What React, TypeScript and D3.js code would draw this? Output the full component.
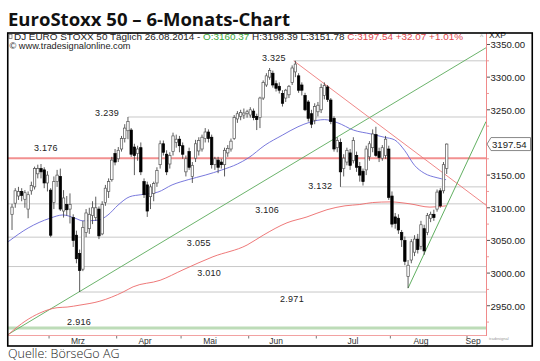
import React from 'react';
import * as d3 from 'd3';

// ---------- data ----------
const dates = [
  "2014-02-13","2014-02-14","2014-02-17","2014-02-18","2014-02-19","2014-02-20","2014-02-21","2014-02-24","2014-02-25","2014-02-26","2014-02-27","2014-02-28",
  "2014-03-03","2014-03-04","2014-03-05","2014-03-06","2014-03-07","2014-03-10","2014-03-11","2014-03-12","2014-03-13","2014-03-14","2014-03-17","2014-03-18","2014-03-19","2014-03-20","2014-03-21","2014-03-24","2014-03-25","2014-03-26","2014-03-27","2014-03-28","2014-03-31",
  "2014-04-01","2014-04-02","2014-04-03","2014-04-04","2014-04-07","2014-04-08","2014-04-09","2014-04-10","2014-04-11","2014-04-14","2014-04-15","2014-04-16","2014-04-17","2014-04-22","2014-04-23","2014-04-24","2014-04-25","2014-04-28","2014-04-29","2014-04-30",
  "2014-05-02","2014-05-05","2014-05-06","2014-05-07","2014-05-08","2014-05-09","2014-05-12","2014-05-13","2014-05-14","2014-05-15","2014-05-16","2014-05-19","2014-05-20","2014-05-21","2014-05-22","2014-05-23","2014-05-26","2014-05-27","2014-05-28","2014-05-29","2014-05-30",
  "2014-06-02","2014-06-03","2014-06-04","2014-06-05","2014-06-06","2014-06-09","2014-06-10","2014-06-11","2014-06-12","2014-06-13","2014-06-16","2014-06-17","2014-06-18","2014-06-19","2014-06-20","2014-06-23","2014-06-24","2014-06-25","2014-06-26","2014-06-27","2014-06-30",
  "2014-07-01","2014-07-02","2014-07-03","2014-07-04","2014-07-07","2014-07-08","2014-07-09","2014-07-10","2014-07-11","2014-07-14","2014-07-15","2014-07-16","2014-07-17","2014-07-18","2014-07-21","2014-07-22","2014-07-23","2014-07-24","2014-07-25","2014-07-28","2014-07-29","2014-07-30","2014-07-31",
  "2014-08-01","2014-08-04","2014-08-05","2014-08-06","2014-08-07","2014-08-08","2014-08-11","2014-08-12","2014-08-13","2014-08-14","2014-08-15","2014-08-18","2014-08-19","2014-08-20","2014-08-21","2014-08-22","2014-08-25","2014-08-26"
];

const opens = [
  3090,3107,3118,3125,3113,3098,3126,3132,3152,3160,3158,3138,
  3127,3108,3140,3148,3095,3105,3098,3085,3058,3030,3006,3062,3068,3088,3085,3098,3060,3108,3125,3143,3183,
  3175,3190,3206,3218,3219,3193,3183,3192,3140,3135,3117,3122,3138,3166,3198,3182,3167,3186,3200,3205,
  3195,3155,3186,3148,3176,3187,3190,3206,3216,3208,3166,3173,3170,3166,3184,3190,3206,3236,3240,3242,3244,
  3242,3248,3240,3238,3268,3288,3300,3306,3290,3286,3275,3268,3273,3292,3308,3302,3288,3272,3262,3244,3234,
  3247,3250,3272,3285,3265,3237,3192,3200,3160,3170,3184,3172,3180,3163,3156,3158,3178,3192,3212,3186,3176,3180,3190,
  3118,3086,3084,3062,3050,2995,3020,3032,3052,3041,3068,3062,3084,3090,3098,3126,3126,3160.37
];
const highs = [
  3106,3130,3132,3130,3127,3125,3140,3163,3166,3167,3162,3156,
  3130,3148,3158,3160,3127,3118,3122,3090,3065,3036,3080,3098,3100,3110,3117,3102,3110,3135,3145,3178,3190,
  3193,3210,3228,3239,3222,3198,3195,3200,3145,3140,3136,3140,3162,3203,3203,3188,3185,3215,3212,3210,
  3200,3180,3192,3170,3204,3208,3212,3222,3220,3212,3178,3178,3175,3192,3196,3206,3242,3248,3250,3252,3250,
  3254,3252,3244,3270,3295,3306,3314,3310,3295,3292,3280,3282,3288,3318,3325,3306,3292,3276,3265,3250,3260,
  3262,3290,3292,3288,3268,3240,3208,3206,3182,3192,3190,3208,3186,3170,3160,3195,3202,3220,3224,3192,3196,3210,3195,
  3125,3092,3090,3066,3056,3020,3052,3058,3060,3080,3074,3092,3094,3097,3128,3130,3170,3198.39
];
const lows = [
  3066,3100,3112,3110,3100,3084,3120,3128,3145,3145,3130,3125,
  3055,3098,3132,3095,3085,3088,3076,3040,3015,2971,3003,3055,3060,3075,3080,3052,3058,3103,3115,3140,3165,
  3170,3186,3200,3205,3178,3150,3172,3150,3115,3086,3098,3110,3132,3160,3180,3150,3160,3180,3192,3185,
  3175,3148,3158,3138,3170,3180,3186,3200,3200,3160,3158,3153,3160,3148,3178,3186,3204,3230,3234,3236,3238,
  3238,3234,3219,3222,3265,3285,3296,3284,3278,3275,3255,3262,3268,3288,3300,3276,3272,3248,3232,3222,3228,
  3240,3245,3266,3262,3228,3186,3185,3132,3148,3165,3158,3168,3155,3140,3134,3150,3172,3185,3178,3170,3172,3175,3112,
  3070,3068,3060,3040,3012,2977,3015,3026,3030,3036,3028,3058,3078,3080,3094,3100,3122,3151.78
];
const closes = [
  3101,3126,3125,3119,3123,3120,3134,3160,3160,3155,3138,3150,
  3058,3140,3150,3098,3115,3097,3105,3050,3022,3004,3070,3092,3090,3100,3100,3057,3105,3130,3140,3173,3170,
  3188,3206,3222,3232,3182,3180,3190,3155,3120,3095,3132,3137,3157,3198,3185,3155,3180,3210,3205,3195,
  3182,3175,3162,3165,3198,3203,3208,3216,3206,3166,3175,3162,3166,3188,3191,3202,3238,3244,3246,3245,3247,
  3250,3238,3235,3268,3292,3302,3310,3288,3283,3280,3260,3280,3286,3314,3320,3280,3280,3250,3237,3228,3255,
  3257,3284,3287,3266,3232,3190,3203,3155,3176,3188,3165,3203,3162,3150,3140,3190,3198,3213,3180,3177,3192,3205,3116,
  3075,3076,3066,3051,3018,3012,3048,3052,3036,3074,3034,3088,3090,3085,3124,3103,3166,3197.54
];

// moving averages: [trading-day index, value]
const blueMA: [number, number][] = [
  [-1.2,3048],[5,3069],[11.8,3084],[15.8,3089],[19.6,3084],[22,3080],[26.7,3081],[29.8,3089],[32.9,3104],
  [36.6,3117],[40,3120],[45.3,3124],[49.7,3135],[54.7,3143],[60,3150],[65.2,3158],[70,3167],[73.3,3176],
  [78.6,3196],[83.9,3211],[88.8,3224],[92.5,3231],[97,3235],[101.2,3230],[106,3219],[111.5,3213],
  [115.6,3208],[118.8,3204],[121.9,3188],[125,3165],[128,3153],[132,3146],[134.8,3143]
];
const redMA: [number, number][] = [
  [-1.25,2905],[-0.6,2908],[8.7,2939],[14,2947],[17.1,2948],[21.1,2951],[27.3,2957],[34.5,2971],[37.6,2979],
  [46,2989],[53.1,3005],[62.4,3025],[73,3043],[78,3058],[85.4,3077],[91.6,3086],[97.8,3097],[103.4,3103],
  [108,3105],[112,3108],[117.4,3109],[123.6,3106],[129.8,3101],[134.8,3103]
];

// trend lines: [index, value] end points
const greenTrendLong: [number, number][] = [[-1.25, 2906], [147.2, 3345]];
const redTrendDown: [number, number][] = [[87.5, 3325], [147.2, 3104]];
const greenTrendUp: [number, number][] = [[123, 2977], [147.2, 3232]];

// horizontal levels
const levels = [3325, 3239, 3176, 3132, 3106, 3055, 3010, 2971, 2916];
const levelKinds = ["grey", "grey", "red", "grey", "grey", "grey", "grey", "grey", "green"];
const levelStart = [87.5, 36, -1.25, 102, -1.25, -1.25, -1.25, 21, -1.25];
const levelLabelPos = [77.6, 25.8, 6.8, 92, 75.5, 54.3, 57.5, 83.2, 17.1];
const levelLabelDy = [0, -0.5, -7, 2.5, 9, 9, 9, 10, -3];

const monthLabels = ["Mrz", "Apr", "Mai", "Jun", "Jul", "Aug", "Sep"];
const monthTickPos = [11.5, 32.5, 52.5, 73.5, 94.5, 117.5, 141.3];
const monthLabelPos = [20.5, 41.3, 61.5, 82, 105.9, 127, 143.2];

const lastPrice = 3197.54;
const titleText = "EuroStoxx 50 – 6-Monats-Chart";
const sourceText = "Quelle: BörseGo AG";
const headerParts = [
  { t: "DJ EURO STOXX 50 Täglich  26.08.2014 - ", c: "#222" },
  { t: "O:3160.37", c: "#3aa83a" },
  { t: " H:3198.39 L:3151.78 ", c: "#222" },
  { t: "C:3197.54 +32.07 +1.01%", c: "#e0474c" },
];
const subHeader = "© www.tradesignalonline.com";
const symbolText = "XXP";

// ---------- layout ----------
const W = 540, H = 361;
const PL = 8, PR = 486, PT = 33, PB = 335;
const FONT = "'Liberation Sans', Arial, sans-serif";

export default function App() {
  const x = d3.scaleLinear().domain([-1.25, 147.2]).range([PL, PR]);
  const y = d3.scaleLinear().domain([2905.2, 3367.6]).range([PB, PT]);
  const line = d3.line<[number, number]>().x(d => x(d[0])).y(d => y(d[1])).curve(d3.curveMonotoneX);
  const straight = d3.line<[number, number]>().x(d => x(d[0])).y(d => y(d[1]));
  const fmtDE = d3.formatLocale({ decimal: ",", thousands: ".", grouping: [3], currency: ["", "€"] }).format(",.0f");
  const fmtAxis = d3.format(".2f");
  const majorTicks = y.ticks(10);
  const minorTicks = d3.range(2925, 3367, 50);
  const priceY = y(lastPrice);

  const levelColor = (k: string) => (k === "red" ? "#f29090" : k === "green" ? "#bddcb8" : "#c8c8c8");
  const levelWidth = (k: string) => (k === "red" ? 2 : k === "green" ? 3 : 1);

  return (
    <svg width={W} height={H} style={{ position: "absolute", left: 0, top: 0, background: "#fff" }} fontFamily={FONT}>
      <defs>
        <clipPath id="plot">
          <rect x={PL} y={PT} width={PR - PL} height={PB - PT} />
        </clipPath>
      </defs>
      <rect x={0} y={0} width={W} height={H} fill="#fff" />

      {/* title */}
      <text x={8} y={26} fontFamily="'Open Sans', 'Noto Sans', sans-serif" fontWeight={700} fontSize={18.5}
        textLength={282} lengthAdjust="spacingAndGlyphs" fill="#111">{titleText}</text>

      {/* plot content */}
      <g clipPath="url(#plot)">
        {levels.map((v, i) => (
          <line key={"lv" + i} x1={x(levelStart[i])} x2={PR} y1={y(v)} y2={y(v)}
            stroke={levelColor(levelKinds[i])} strokeWidth={levelWidth(levelKinds[i])} />
        ))}
        <path d={straight(greenTrendLong) || ""} fill="none" stroke="#5aaa5a" strokeWidth={0.9} />
        <path d={straight(redTrendDown) || ""} fill="none" stroke="#ee7b7b" strokeWidth={0.9} />
        <path d={straight(greenTrendUp) || ""} fill="none" stroke="#4fa64f" strokeWidth={0.9} />
        <path d={line(redMA) || ""} fill="none" stroke="#ec6a6a" strokeWidth={0.9} />
        <path d={line(blueMA) || ""} fill="none" stroke="#6a6ad8" strokeWidth={0.9} />

        {dates.map((d, i) => {
          const o = opens[i], c = closes[i];
          const up = c >= o;
          const cx = x(i);
          const top = y(Math.max(o, c));
          const bot = y(Math.min(o, c));
          return (
            <g key={d}>
              <line x1={cx} x2={cx} y1={y(highs[i])} y2={y(lows[i])} stroke="#333" strokeWidth={0.8} />
              <rect x={cx - 1.2} y={top} width={2.4} height={Math.max(bot - top, 0.8)}
                fill={up ? "#fff" : "#000"} stroke={up ? "#555" : "#000"} strokeWidth={0.7} />
            </g>
          );
        })}
      </g>

      {/* level labels */}
      {levels.map((v, i) => (
        <text key={"ll" + i} x={x(levelLabelPos[i])} y={y(v) + levelLabelDy[i]} fontSize={9}
          fill="#222" letterSpacing={0.3}>{fmtDE(v)}</text>
      ))}

      {/* plot bottom and right axis lines */}
      <line x1={PL} x2={PR} y1={PB + 0.5} y2={PB + 0.5} stroke="#f2a2a2" strokeWidth={1} />
      <line x1={PR + 0.5} x2={PR + 0.5} y1={PT} y2={PB + 1} stroke="#f08a8a" strokeWidth={1} />

      {/* y axis */}
      {minorTicks.map(v => (
        <line key={"mt" + v} x1={PR + 1} x2={PR + 3} y1={y(v)} y2={y(v)} stroke="#ee9a9a" strokeWidth={1} />
      ))}
      {majorTicks.filter(v => Math.abs(y(v) - priceY) > 8).map(v => (
        <g key={"yt" + v}>
          <line x1={PR + 1} x2={PR + 4} y1={y(v)} y2={y(v)} stroke="#555" strokeWidth={1} />
          <text x={PR + 4.5} y={y(v) + 3.8} fontSize={9.6} fill="#222">{fmtAxis(v)}</text>
        </g>
      ))}
      <path d={`M${PR + 1},${priceY} L${PR + 5},${priceY - 6.5} L${530.5},${priceY - 6.5} L${530.5},${priceY + 6.5} L${PR + 5},${priceY + 6.5} Z`}
        fill="#fff" stroke="#888" strokeWidth={1} />
      <text x={PR + 6} y={priceY + 3.5} fontSize={9.6} fill="#222">{fmtAxis(lastPrice)}</text>

      {/* x axis */}
      {monthTickPos.map((p, i) => (
        <line key={"xt" + i} x1={x(p)} x2={x(p)} y1={PB + 1} y2={PB + 3.5} stroke="#777" strokeWidth={1} />
      ))}
      {monthLabels.map((m, i) => (
        <text key={"xl" + i} x={x(monthLabelPos[i])} y={343.5} fontSize={8.5} textAnchor="middle" fill="#333">{m}</text>
      ))}

      {/* header */}
      <rect x={9} y={34.5} width={3} height={4} fill="none" stroke="#666" strokeWidth={0.7} />
      <text x={14} y={39.5} fontSize={8.8} textLength={449} lengthAdjust="spacingAndGlyphs">
        {headerParts.map((p, i) => (
          <tspan key={i} fill={p.c}>{p.t}</tspan>
        ))}
      </text>
      <text x={9.5} y={48.5} fontSize={8.6} fill="#222" textLength={121} lengthAdjust="spacingAndGlyphs">{subHeader}</text>
      <text x={480} y={38.5} fontSize={7} fill="#999">^</text>
      <text x={489} y={37.6} fontSize={8.5} fill="#222">{symbolText}</text>
      <text x={489} y={340} fontSize={4} fill="#999">tradesignal</text>

      {/* frame */}
      <rect x={7.75} y={33} width={524.5} height={313} fill="none" stroke="#000" strokeWidth={1.6} />

      {/* source */}
      <text x={8} y={357.5} fontFamily="'Open Sans', 'Noto Sans', sans-serif" fontWeight={300} fontSize={12.5} fill="#222">{sourceText}</text>
    </svg>
  );
}
